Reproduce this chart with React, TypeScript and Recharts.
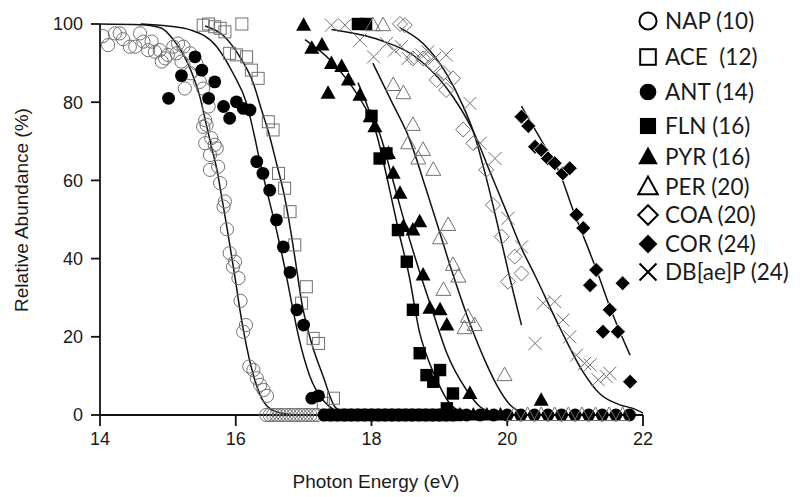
import React from 'react'
import { ComposedChart, Scatter, Line, XAxis, YAxis, Legend } from 'recharts'

type Pt = [number, number]

// measured points: [photon energy (eV), relative abundance (%)]
const NAP: Pt[] = [
  [14.04, 96.9], [14.12, 94.6], [14.22, 97.6], [14.29, 97.6], [14.34, 96.1], [14.44, 94.2],
  [14.52, 94.2], [14.59, 97.6], [14.64, 95.5], [14.71, 93.3], [14.76, 95.5], [14.81, 92.9],
  [14.88, 93.3], [14.91, 90.4], [14.96, 91.2], [15.0, 92.1], [15.08, 94.2], [15.15, 95.0],
  [15.23, 94.2], [15.13, 92.5], [15.2, 90.4], [15.33, 92.5], [15.42, 89.9], [15.33, 87.4],
  [15.47, 85.2], [15.52, 83.5], [15.25, 83.5], [15.6, 78.9], [15.55, 75.4], [15.52, 73.7],
  [15.57, 74.2], [15.64, 70.8], [15.55, 69.5], [15.69, 69.1], [15.62, 66.5], [15.72, 68.2],
  [15.62, 62.7], [15.74, 63.5], [15.77, 59.3], [15.84, 54.6], [15.82, 53.3], [15.87, 47.5],
  [15.91, 41.4], [15.99, 39.2], [15.96, 37.9], [16.04, 35.0], [16.07, 29.2], [16.15, 23.0],
  [16.11, 21.3], [16.2, 12.4], [16.26, 11.5], [16.31, 9.4], [16.36, 7.7], [16.41, 6.4],
  [16.46, 4.9],
  [16.45, 0], [16.5, 0], [16.55, 0], [16.6, 0], [16.65, 0], [16.7, 0], [16.75, 0], [16.8, 0],
  [16.85, 0], [16.9, 0], [16.95, 0], [17.0, 0], [17.05, 0], [17.1, 0], [17.15, 0], [17.2, 0],
]
const ACE: Pt[] = [
  [15.52, 99.7], [15.6, 100], [15.69, 99.3], [15.77, 98.9], [15.84, 98], [16.09, 100],
  [15.91, 92.5], [16.01, 92.1], [16.16, 91.6], [16.23, 88.2], [16.33, 86.1], [16.48, 75],
  [16.55, 72.9], [16.63, 61.8], [16.72, 58], [16.8, 52], [16.87, 43.5], [16.97, 28.6],
  [17.04, 32.8], [17.14, 19.6], [17.22, 18.3], [17.29, 3], [17.44, 4.3],
]
const ANT: Pt[] = [
  [15.4, 91.6], [15.5, 88.2], [15.2, 86.8], [15.69, 85.2], [15.01, 81], [15.6, 81],
  [15.82, 78.9], [16.01, 80.1], [16.11, 78.4], [16.21, 78], [15.91, 75.9], [16.31, 64.8],
  [16.4, 61.8], [16.5, 57.5], [16.6, 49.9], [16.7, 43], [16.8, 36.5], [16.9, 26.9],
  [17.0, 23], [17.12, 4.3], [17.22, 4.9],
  [17.3, 0], [17.4, 0], [17.5, 0], [17.6, 0], [17.7, 0], [17.8, 0], [17.9, 0], [18.0, 0],
  [18.1, 0], [18.2, 0], [18.3, 0], [18.4, 0], [18.5, 0], [18.6, 0], [18.7, 0], [18.8, 0],
  [18.9, 0], [19.0, 0], [19.1, 0], [19.2, 0], [19.4, 0], [19.6, 0], [19.8, 0], [20.0, 0],
  [20.2, 0], [20.4, 0], [20.6, 0], [20.8, 0], [21.0, 0], [21.2, 0], [21.4, 0], [21.6, 0],
  [21.8, 0],
]
const FLN: Pt[] = [
  [17.8, 100], [17.92, 100], [18.0, 76.5], [18.12, 65.6], [18.22, 66.9], [18.39, 47.3],
  [18.52, 39.2], [18.61, 26.9], [18.71, 15.8], [18.81, 10.2], [18.91, 8.5], [19.01, 11.5],
  [19.2, 5.5], [19.11, 1.7],
  [17.35, 0], [17.45, 0], [17.55, 0], [17.65, 0], [17.75, 0], [17.85, 0], [17.95, 0],
  [18.05, 0], [18.15, 0], [18.25, 0], [18.35, 0], [18.45, 0], [18.55, 0], [18.65, 0],
  [18.75, 0], [18.85, 0], [18.95, 0], [19.05, 0], [19.15, 0], [19.25, 0],
]
const PYR: Pt[] = [
  [17.0, 99.7], [17.12, 93.8], [17.27, 94.6], [17.41, 89.9], [17.56, 89.1], [17.66, 85.7],
  [17.36, 82.3], [17.83, 81.8], [17.98, 76.3], [18.05, 73.7], [18.25, 66.9], [18.32, 61.8],
  [18.42, 56.7], [18.47, 48.2], [18.61, 47.3], [18.71, 49.4], [18.76, 35.8], [18.86, 27.3],
  [19.01, 26.9], [19.11, 23.0], [19.45, 5.5], [20.5, 3.8],
  [19.3, 0], [19.5, 0], [19.7, 0], [19.9, 0],
]
const PER: Pt[] = [
  [18.02, 99.7], [18.17, 99.7], [18.32, 84.4], [18.47, 82.3], [18.61, 74.2], [18.54, 69.5],
  [18.76, 67.8], [18.69, 65.6], [18.91, 62.7], [19.13, 48.6], [19.01, 45.2], [19.2, 38.4],
  [19.28, 35.4], [19.06, 32], [19.42, 25.1], [19.37, 22.2], [19.52, 23], [19.96, 10.2],
  [20.1, 0], [20.3, 0], [20.5, 0], [20.7, 0], [20.9, 0], [21.1, 0], [21.3, 0], [21.5, 0],
  [21.7, 0],
]
const COA: Pt[] = [
  [18.42, 100], [18.49, 99.7], [18.61, 91.2], [18.76, 91.2], [18.91, 89.5], [18.96, 85.7],
  [19.06, 87.4], [19.2, 86.1], [19.1, 83.1], [19.35, 73], [19.5, 69.5], [19.69, 62.7],
  [19.79, 53.7], [19.92, 45.6], [20.11, 40.5], [20.21, 36.2], [20.01, 34.1],
]
const COR: Pt[] = [
  [20.21, 76.3], [20.31, 73.9], [20.41, 68.6], [20.5, 67.8], [20.6, 65.6], [20.7, 64.4],
  [20.82, 61.8], [20.92, 63.1], [21.02, 51.2], [21.12, 47.8], [21.31, 37.1], [21.22, 33.2],
  [21.7, 33.7], [21.51, 26.9], [21.41, 21.3], [21.63, 21.3], [21.81, 8.5],
]
const DBAEP: Pt[] = [
  [17.41, 99.7], [17.61, 99.7], [17.83, 95.9], [18.03, 91.6], [18.22, 95], [18.34, 93.3],
  [18.44, 94.2], [18.54, 91.2], [18.74, 92.1], [18.83, 92.9], [18.93, 91.2], [19.1, 92.1],
  [19.45, 79.7], [19.6, 69.5], [19.82, 65.6], [20.01, 50.3], [20.21, 43], [20.41, 18.3],
  [20.53, 28.6], [20.7, 29], [20.82, 24.3], [20.92, 20], [21.02, 15.3], [21.14, 13.2],
  [21.22, 12.8], [21.34, 9], [21.46, 9.8], [21.51, 10.7],
]

// fitted curves
const NAP_FIT: Pt[] = [
  [14, 100], [14.6, 99.8], [14.9, 99], [15.08, 96], [15.2, 93], [15.33, 88.5], [15.47, 81.5],
  [15.57, 74], [15.65, 68], [15.72, 63], [15.8, 55], [15.87, 48], [15.94, 40.5], [16.0, 34],
  [16.06, 27], [16.16, 17.5], [16.28, 9], [16.41, 3.4], [16.6, 0.8], [16.9, 0],
]
const ANT_FIT: Pt[] = [
  [14.6, 100], [15.0, 99.5], [15.33, 98.5], [15.72, 94.2], [15.96, 87.4], [16.16, 79.7],
  [16.28, 71], [16.36, 64.4], [16.48, 55.8], [16.6, 47.3], [16.73, 37], [16.82, 29],
  [16.92, 20.5], [17.09, 10], [17.3, 3.5], [17.46, 1.2], [17.7, 0],
]
const ACE_FIT: Pt[] = [
  [15.55, 99.5], [15.82, 97], [16.06, 91.6], [16.26, 84.8], [16.38, 78], [16.48, 72.5],
  [16.6, 64.4], [16.72, 55.8], [16.82, 46], [16.9, 37], [16.97, 29], [17.09, 20],
  [17.29, 9.8], [17.46, 2.1], [17.65, 0],
]
const FLN_FIT: Pt[] = [
  [17.8, 85], [17.95, 78.5], [18.08, 71.5], [18.25, 59], [18.4, 47], [18.55, 36],
  [18.71, 21], [18.85, 13.5], [18.96, 9], [19.15, 3], [19.35, 0.5],
]
const PYR_FIT: Pt[] = [
  [17.02, 96], [17.39, 90.8], [17.68, 84.8], [17.93, 78], [18.12, 72], [18.3, 61],
  [18.5, 48.5], [18.72, 36], [18.91, 26], [19.11, 15.8], [19.4, 6.4], [19.6, 2.1], [19.85, 0.3],
]
const PER_FIT: Pt[] = [
  [18.02, 90], [18.3, 80], [18.55, 71], [18.8, 58], [19.0, 47], [19.18, 37], [19.45, 23.4],
  [19.69, 13.2], [19.85, 7.5], [20.04, 2.6], [20.25, 0.4],
]
const COA_FIT: Pt[] = [
  [18.42, 99], [18.76, 95], [19.1, 87.4], [19.35, 79], [19.5, 72.5], [19.7, 60], [19.88, 47],
  [20.01, 37.1], [20.21, 23],
]
const COR_FIT: Pt[] = [
  [20.21, 79], [20.5, 70.3], [20.77, 62], [20.97, 52.4], [21.22, 41.4], [21.36, 35],
  [21.51, 27.7], [21.81, 15.3],
]
const DBAEP_FIT: Pt[] = [
  [17.41, 98.6], [18.12, 95.9], [18.71, 90.8], [19.2, 81.4], [19.5, 72.5], [19.75, 62],
  [20.0, 51.5], [20.2, 43], [20.4, 36], [20.77, 22.5], [21.1, 11.5], [21.36, 5.5],
  [21.66, 2.6], [21.85, 1.7], [22, 0.5],
]

const X_TICKS = [14, 16, 18, 20, 22]
const Y_TICKS = [0, 20, 40, 60, 80, 100]

type Kind = 'circleOpen' | 'squareOpen' | 'circle' | 'square' | 'triangle' | 'triangleOpen' | 'diamondOpen' | 'diamond' | 'cross'

const SERIES: { name: string; kind: Kind; data: Pt[]; fit: Pt[] }[] = [
  { name: 'NAP (10)', kind: 'circleOpen', data: NAP, fit: NAP_FIT },
  { name: 'ACE  (12)', kind: 'squareOpen', data: ACE, fit: ACE_FIT },
  { name: 'ANT (14)', kind: 'circle', data: ANT, fit: ANT_FIT },
  { name: 'FLN (16)', kind: 'square', data: FLN, fit: FLN_FIT },
  { name: 'PYR (16)', kind: 'triangle', data: PYR, fit: PYR_FIT },
  { name: 'PER (20)', kind: 'triangleOpen', data: PER, fit: PER_FIT },
  { name: 'COA (20)', kind: 'diamondOpen', data: COA, fit: COA_FIT },
  { name: 'COR (24)', kind: 'diamond', data: COR, fit: COR_FIT },
  { name: 'DB[ae]P (24)', kind: 'cross', data: DBAEP, fit: DBAEP_FIT },
]

const LEGEND_ROWS = [21, 57, 92, 126, 157, 187, 215, 244, 272]

const pts = (a: Pt[]) => a.map(([x, y]) => ({ x, y }))

const GRAY = '#707070'
const FONT = '"Liberation Sans", Arial, sans-serif'

function Mark({ kind, cx, cy, s = 1, legend = false }: { kind: Kind; cx: number; cy: number; s?: number; legend?: boolean }) {
  const line = legend ? '#000' : GRAY
  const sw = legend ? 2 : 1
  switch (kind) {
    case 'circleOpen':
      return <circle cx={cx} cy={cy} r={6.6 * s} fill="none" stroke={line} strokeWidth={sw} />
    case 'squareOpen':
      return <rect x={cx - 6 * s} y={cy - 6 * s} width={12 * s} height={12 * s} fill="none" stroke={line} strokeWidth={sw} />
    case 'circle':
      return <circle cx={cx} cy={cy} r={6.4 * s} fill="#000" />
    case 'square':
      return <rect x={cx - 6.2 * s} y={cy - 6.2 * s} width={12.4 * s} height={12.4 * s} fill="#000" />
    case 'triangle':
      return <polygon points={`${cx},${cy - 8 * s} ${cx - 7.5 * s},${cy + 5.5 * s} ${cx + 7.5 * s},${cy + 5.5 * s}`} fill="#000" />
    case 'triangleOpen':
      return <polygon points={`${cx},${cy - 8 * s} ${cx - 7.5 * s},${cy + 5.5 * s} ${cx + 7.5 * s},${cy + 5.5 * s}`} fill="none" stroke={line} strokeWidth={sw} />
    case 'diamondOpen':
      return <polygon points={`${cx},${cy - 7.5 * s} ${cx + 7.5 * s},${cy} ${cx},${cy + 7.5 * s} ${cx - 7.5 * s},${cy}`} fill="none" stroke={line} strokeWidth={sw} />
    case 'diamond':
      return <polygon points={`${cx},${cy - 7.5 * s} ${cx + 7.5 * s},${cy} ${cx},${cy + 7.5 * s} ${cx - 7.5 * s},${cy}`} fill="#000" stroke="#fff" strokeWidth={0.8} />
    case 'cross':
      return (
        <g stroke={line} strokeWidth={sw}>
          <line x1={cx - 6.5 * s} y1={cy - 6.5 * s} x2={cx + 6.5 * s} y2={cy + 6.5 * s} />
          <line x1={cx - 6.5 * s} y1={cy + 6.5 * s} x2={cx + 6.5 * s} y2={cy - 6.5 * s} />
        </g>
      )
  }
  return null
}

function LegendBox() {
  return (
    <div style={{ position: 'relative', width: 164, height: 300 }}>
      {SERIES.map((s, i) => (
        <div key={s.name} style={{ position: 'absolute', left: 0, top: LEGEND_ROWS[i] - 15, height: 30, width: 164 }}>
          <svg width={30} height={30} style={{ position: 'absolute', left: 0, top: 0 }}>
            <Mark kind={s.kind} cx={15} cy={15} s={1.3} legend />
          </svg>
          <span
            style={{
              position: 'absolute', left: 32, top: 1, lineHeight: '27px', fontSize: 22.5,
              fontFamily: 'Lato, "Open Sans", sans-serif', color: '#1a1a1a', whiteSpace: 'pre',
            }}
          >
            {s.name}
          </span>
        </div>
      ))}
    </div>
  )
}

export default function App() {
  const tick = { fontSize: 18, fontFamily: FONT, fill: '#1a1a1a' }
  return (
    <div style={{ position: 'absolute', left: 0, top: 0, width: 800, height: 497, background: '#fff' }}>
      <ComposedChart width={800} height={497} margin={{ top: 24, right: 157, bottom: 0, left: 0 }}>
        <XAxis
          type="number"
          dataKey="x"
          domain={[14, 22]}
          ticks={X_TICKS}
          allowDataOverflow
          height={82}
          tickSize={11}
          tickMargin={6}
          tick={tick}
          axisLine={{ stroke: '#111', strokeWidth: 1.8 }}
          tickLine={{ stroke: '#111', strokeWidth: 1.8 }}
          label={{
            content: () => (
              <text x={376} y={488} textAnchor="middle" fontSize={19} fontFamily={FONT} fill="#1a1a1a">
                Photon Energy (eV)
              </text>
            ),
          }}
        />
        <YAxis
          type="number"
          dataKey="y"
          domain={[0, 100]}
          ticks={Y_TICKS}
          width={100}
          tickSize={9}
          tickMargin={8}
          tick={tick}
          axisLine={{ stroke: '#111', strokeWidth: 1.8 }}
          tickLine={{ stroke: '#111', strokeWidth: 1.8 }}
          label={{
            content: () => (
              <text transform="translate(28,210) rotate(-90)" x={0} y={0} textAnchor="middle" fontSize={19} fontFamily={FONT} fill="#1a1a1a">
                Relative Abundance (%)
              </text>
            ),
          }}
        />
        {SERIES.map((s) => (
          <Line
            key={s.name + '-fit'}
            data={pts(s.fit)}
            dataKey="y"
            type="monotone"
            stroke="#111"
            strokeWidth={1.5}
            dot={false}
            activeDot={false}
            legendType="none"
            isAnimationActive={false}
          />
        ))}
        {SERIES.map((s) => (
          <Scatter
            key={s.name}
            name={s.name}
            data={pts(s.data)}
            isAnimationActive={false}
            shape={(p: any) => <Mark kind={s.kind} cx={p.cx} cy={p.cy} />}
          />
        ))}
        <Legend
          layout="vertical"
          align="center"
          verticalAlign="middle"
          wrapperStyle={{ left: 633, top: 0, width: 164, height: 300 }}
          content={() => <LegendBox />}
        />
      </ComposedChart>
    </div>
  )
}
